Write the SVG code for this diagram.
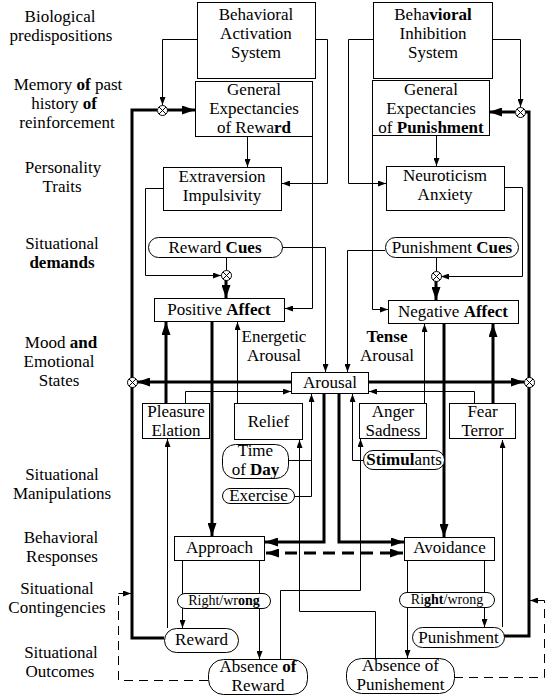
<svg xmlns="http://www.w3.org/2000/svg" width="550" height="697" viewBox="0 0 550 697">
<style>
text{font-family:"Liberation Serif","Times New Roman",serif;font-size:17px;fill:#000;text-anchor:middle}
.b{font-weight:bold}
.sm{font-size:14px}
.box{fill:#fff;stroke:#000;stroke-width:1}
.thin{fill:none;stroke:#000;stroke-width:1}
.thick{fill:none;stroke:#000;stroke-width:3}
.dash{stroke-dasharray:9,6}
.tdash{stroke-dasharray:12,7}
.ta{marker-end:url(#a)}
.tka{marker-end:url(#ka)}
.jx{fill:#fff;stroke:#000;stroke-width:1}
</style>
<defs>
<marker id="a" viewBox="0 0 8 6" refX="8" refY="3" markerWidth="8" markerHeight="6" markerUnits="userSpaceOnUse" orient="auto"><path d="M0,0L8,3L0,6z" fill="#000"/></marker>
<marker id="ka" viewBox="0 0 13 9" refX="13" refY="4.5" markerWidth="13" markerHeight="9" markerUnits="userSpaceOnUse" orient="auto"><path d="M0,0L13,4.5L0,9z" fill="#000"/></marker>
<marker id="ks" viewBox="0 0 13 9" refX="13" refY="4.5" markerWidth="13" markerHeight="9" markerUnits="userSpaceOnUse" orient="auto-start-reverse"><path d="M0,0L13,4.5L0,9z" fill="#000"/></marker>
<g id="jxsym"><circle class="jx" cx="0" cy="0" r="5"/><path d="M-3.5,-3.5L3.5,3.5M-3.5,3.5L3.5,-3.5" stroke="#000" stroke-width="1"/></g>
</defs>

<g id="labels">
<text x="60" y="22">Biological</text>
<text x="61" y="41">predispositions</text>
<text x="68" y="90">Memory <tspan class="b">of</tspan> past</text>
<text x="64" y="109">history <tspan class="b">of</tspan></text>
<text x="67" y="128">reinforcement</text>
<text x="63" y="173">Personality</text>
<text x="62" y="192">Traits</text>
<text x="62" y="249">Situational</text>
<text x="62" y="268" class="b">demands</text>
<text x="61" y="348">Mood <tspan class="b">and</tspan></text>
<text x="59" y="367">Emotional</text>
<text x="59" y="386">States</text>
<text x="62" y="480">Situational</text>
<text x="62" y="499">Manipulations</text>
<text x="61" y="543">Behavioral</text>
<text x="62" y="562">Responses</text>
<text x="57" y="594">Situational</text>
<text x="57" y="613">Contingencies</text>
<text x="61" y="658">Situational</text>
<text x="60" y="677">Outcomes</text>
</g>

<g id="connectors">
<path class="thin ta" d="M197,39.5H162.5V105"/>
<path class="thin ta" d="M315,39.5H327.5V183.5H282"/>
<path class="thin ta" d="M373,39.5H348.5V183.5H386"/>
<path class="thin ta" d="M492,39.5H520.5V107"/>
<path class="thin ta" d="M247.5,137V167"/>
<path class="thin ta" d="M436.5,136V166"/>
<path class="thin ta" d="M312.5,137V308.5H285"/>
<path class="thin ta" d="M372.5,136V309.5H388"/>
<path class="thin ta" d="M163,188.5H145.5V275.5H221"/>
<path class="thin ta" d="M504,187.5H522.5V276.5H441"/>
<path class="thin" d="M226.5,257V270"/>
<path class="thin" d="M436.5,257V271"/>
<path class="thin ta" d="M282,247.5H325.5V372"/>
<path class="thin ta" d="M385,250.5H347.5V372"/>
<path class="thick tka" d="M226,280V298"/>
<path class="thick tka" d="M436,281V300"/>
<path class="thick tka" d="M166,403V322"/>
<path class="thin ta" d="M237.5,403V322"/>
<path class="thin ta" d="M424.5,403V324"/>
<path class="thick tka" d="M493,403V324"/>
<path class="thick tka" d="M212,321V536"/>
<path class="thick tka" d="M444,323V537"/>
<path class="thick tka" d="M291,382H137"/>
<path class="thick tka" d="M368,382H524"/>
<path class="thin ta" d="M185.5,403V391.5H291"/>
<path class="thin ta" d="M474.5,403V391.5H369"/>
<path class="thin ta" d="M294,496.5H311.5V394"/>
<path class="thin" d="M288,460.5H312"/>
<path class="thin ta" d="M363,460.5H352.5V394"/>
<path class="thick tka" d="M324,393V542H265"/>
<path class="thick tka" d="M339,393V542H404"/>
<path class="thick tdash" d="M266,553H403" marker-start="url(#ks)" marker-end="url(#ks)"/>
<path class="thin" d="M182.5,560V594M259.5,560V594M407.5,560V593M484.5,560V593"/>
<path class="thin ta" d="M182.5,608V628"/>
<path class="thin ta" d="M259.5,608V659"/>
<path class="thin ta" d="M484.5,607V627"/>
<path class="thin ta" d="M407.5,607V658"/>
<path class="thin ta" d="M167.5,628V439"/>
<path class="thin ta" d="M502.5,627V440"/>
<path class="thin ta" d="M280.5,659V590.5H360.5V439"/>
<path class="thin ta" d="M375.5,658V611.5H299.5V440"/>
<path class="thick" d="M164,638H132V110H157"/>
<path class="thick tka" d="M167,110H195"/>
<path class="thick" d="M504,636H529V112H525"/>
<path class="thick tka" d="M515,112H489"/>
<path class="thin dash" d="M208,680.5H118.5V593.5"/>
<path class="thin ta" d="M118.5,593.5H131"/>
<path class="thin dash" d="M454,677.5H544.5V600.5"/>
<path class="thin ta" d="M544.5,600.5H530"/>
<g id="junctions">
<use href="#jxsym" x="162.5" y="110.5"/>
<use href="#jxsym" x="520.5" y="112.5"/>
<use href="#jxsym" x="226.5" y="275.5"/>
<use href="#jxsym" x="436.5" y="276.5"/>
<use href="#jxsym" x="132.5" y="382.5"/>
<use href="#jxsym" x="529.5" y="382.5"/>
</g>
</g>

<g id="bas"><rect class="box" x="197.5" y="2.5" width="118" height="76"/><text x="256" y="20">Behavioral</text><text x="256" y="39">Activation</text><text x="256" y="58">System</text></g>
<g id="bis"><rect class="box" x="373.5" y="2.5" width="119" height="76"/><text x="433" y="20">Beha<tspan class="b">vioral</tspan></text><text x="433" y="39">Inhibition</text><text x="433" y="58">System</text></g>
<g id="ger"><rect class="box" x="195.5" y="81.5" width="117" height="55"/><text x="254" y="95">General</text><text x="254" y="114">Expectancies</text><text x="254" y="133">of Rewa<tspan class="b">rd</tspan></text></g>
<g id="gep"><rect class="box" x="372.5" y="80.5" width="117" height="55"/><text x="431" y="95">General</text><text x="431" y="114">Expectancies</text><text x="431" y="133">of <tspan class="b">Punishment</tspan></text></g>
<g id="extraversion"><rect class="box" x="163.5" y="167.5" width="118" height="43"/><text x="222" y="182">Extraversion</text><text x="222" y="201">Impulsivity</text></g>
<g id="neuroticism"><rect class="box" x="386.5" y="166.5" width="118" height="44"/><text x="445" y="181">Neuroticism</text><text x="445" y="200">Anxiety</text></g>
<g id="reward-cues"><rect class="box" x="148.5" y="237.5" width="134" height="20" rx="10"/><text x="215" y="253">Reward <tspan class="b">Cues</tspan></text></g>
<g id="punishment-cues"><rect class="box" x="385.5" y="237.5" width="133" height="20" rx="10"/><text x="452" y="253">Punishment <tspan class="b">Cues</tspan></text></g>
<g id="positive-affect"><rect class="box" x="154.5" y="298.5" width="130" height="23"/><text x="219" y="315">Positive <tspan class="b">Affect</tspan></text></g>
<g id="negative-affect"><rect class="box" x="388.5" y="300.5" width="130" height="23"/><text x="453" y="317">Negative <tspan class="b">Affect</tspan></text></g>
<g id="energetic"><text x="274" y="342">Energetic</text><text x="274" y="361">Arousal</text></g>
<g id="tense"><text x="387" y="342" class="b">Tense</text><text x="387" y="361">Arousal</text></g>
<g id="arousal"><rect class="box" x="291.5" y="372.5" width="77" height="21"/><text x="330" y="388">Arousal</text></g>
<g id="pleasure"><rect class="box" x="142.5" y="403.5" width="67" height="35"/><text x="176" y="417">Pleasure</text><text x="176" y="436">Elation</text></g>
<g id="relief"><rect class="box" x="234.5" y="403.5" width="68" height="36"/><text x="268.5" y="427">Relief</text></g>
<g id="anger"><rect class="box" x="359.5" y="403.5" width="67" height="35"/><text x="393" y="417">Anger</text><text x="393" y="436">Sadness</text></g>
<g id="fear"><rect class="box" x="449.5" y="403.5" width="66" height="35"/><text x="482.5" y="417">Fear</text><text x="482.5" y="436">Terror</text></g>
<g id="time-of-day"><rect class="box" x="222.5" y="444.5" width="66" height="34" rx="13"/><text x="255.5" y="456">Time</text><text x="255.5" y="475">of <tspan class="b">Day</tspan></text></g>
<g id="exercise"><rect class="box" x="222.5" y="488.5" width="72" height="15" rx="7.5"/><text x="258.5" y="501">Exercise</text></g>
<g id="stimulants"><rect class="box" x="363.5" y="450.5" width="81" height="19" rx="9.5"/><text x="404" y="465"><tspan class="b">Stimul</tspan>ants</text></g>
<g id="approach"><rect class="box" x="174.5" y="536.5" width="90" height="24"/><text x="219.5" y="553">Approach</text></g>
<g id="avoidance"><rect class="box" x="404.5" y="537.5" width="90" height="23"/><text x="449.5" y="553">Avoidance</text></g>
<g id="rw-left"><rect class="box" x="177.5" y="593.5" width="93" height="15" rx="7.5"/><text class="sm" x="224" y="605">Right/wr<tspan class="b">ong</tspan></text></g>
<g id="rw-right"><rect class="box" x="399.5" y="592.5" width="95" height="15" rx="7.5"/><text class="sm" x="447" y="604">Ri<tspan class="b">ght</tspan>/wrong</text></g>
<g id="reward"><rect class="box" x="164.5" y="628.5" width="74" height="24" rx="12"/><text x="201.5" y="645">Reward</text></g>
<g id="punishment"><rect class="box" x="412.5" y="627.5" width="92" height="20" rx="10"/><text x="458.5" y="643">Punishment</text></g>
<g id="absence-reward"><rect class="box" x="208.5" y="659.5" width="99" height="35" rx="15"/><text x="258" y="672">Absence <tspan class="b">of</tspan></text><text x="258" y="691">Reward</text></g>
<g id="absence-punishment"><rect class="box" x="346.5" y="658.5" width="108" height="35" rx="15"/><text x="400.5" y="671">Absence of</text><text x="400.5" y="690">Punishement</text></g>
</svg>
